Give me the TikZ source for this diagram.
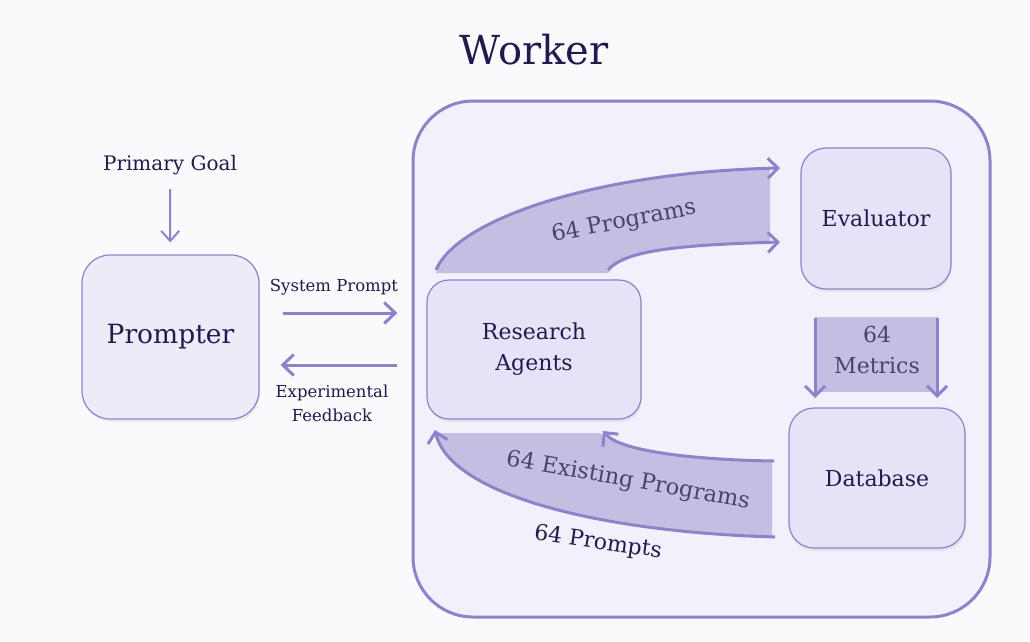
\documentclass[tikz,border=0pt]{standalone}
\usepackage{fontspec}
\setmainfont{DejaVu Serif}
\usetikzlibrary{arrows.meta,positioning,calc,shadows}
\definecolor{Ink}{HTML}{221A4C}
\definecolor{BandInk}{HTML}{4A4170}
\definecolor{Accent}{HTML}{8E82C8}
\definecolor{BoxFill}{HTML}{E7E2F7}
\definecolor{WorkerFill}{HTML}{F3F0FB}
\definecolor{BandFill}{HTML}{C6BDE3}
\definecolor{Paper}{HTML}{FAFAFD}
\newcommand{\fsz}[2]{\fontsize{#1}{#2}\selectfont}

\begin{document}
\begin{tikzpicture}[x=1pt,y=-1pt,
  box/.style={draw=Accent,line width=1.2pt,fill=BoxFill,rounded corners=25pt,text=Ink,align=center,
    inner sep=0pt,drop shadow={opacity=0.12,shadow xshift=1pt,shadow yshift=-3pt}},
  flow/.style={draw=Accent,line width=3pt,-{Straight Barb[length=11pt,width=21pt,line width=3pt]}},
  thinflow/.style={draw=Accent,line width=2pt,-{Straight Barb[length=10pt,width=18pt,line width=2pt]}},
  bandline/.style={draw=Accent,line width=3pt,-{Straight Barb[length=10pt,width=20pt,line width=3pt]}},
  lbl/.style={text=Ink,align=center,inner sep=1pt},
  bandlbl/.style={text=BandInk,inner sep=0pt}]
\useasboundingbox[fill=Paper] (0,0) rectangle (1030,642);
% title and outer box
\node[lbl,font=\fsz{40}{46}] (title) at (534,50) {Worker};
\node[draw=Accent,line width=3pt,fill=WorkerFill,rounded corners=60pt,minimum width=577pt,minimum height=516pt] (worker) at (701.5,359) {};
% prompter side
\node[lbl,font=\fsz{20}{24}] (goal) at (170,165) {Primary Goal};
\node[box,rounded corners=28pt,minimum width=177pt,minimum height=164pt,fill=BoxFill!70!white,font=\fsz{26.5}{30}] (prompter) at (170.5,337) {Prompter};
\draw[thinflow,shorten <=13pt,shorten >=12pt] (goal) -- (prompter);
% boxes inside worker
\node[box,rounded corners=22pt,minimum width=214pt,minimum height=139pt,font=\fsz{22}{31}] (research) at (534,349.5) {Research\\Agents};
\node[box,minimum width=150pt,minimum height=141pt,font=\fsz{22}{26}] (evaluator) at (876,218.5) {Evaluator};
\node[box,minimum width=176pt,minimum height=140pt,font=\fsz{22}{26}] (database) at (877,478) {Database};
% prompt and feedback
\draw[flow,shorten <=23pt,shorten >=29pt] ([yshift=24pt]prompter.east) -- ([yshift=24pt]prompter.east -| research.west)
  node[lbl,midway,above=15pt,xshift=-9pt,font=\fsz{16.5}{20}] (syslbl) {System Prompt};
\draw[flow,shorten <=29pt,shorten >=21pt] ([yshift=-28pt]prompter.east -| research.west) -- ([yshift=-28pt]prompter.east)
  node[lbl,midway,below=17pt,xshift=-11pt,font=\fsz{16.5}{24}] (feedlbl) {Experimental\\Feedback};
% programs band
\fill[BandFill] (436,273) .. controls (458,218) and (600,172) .. (770,168) -- (770,242)
  .. controls (680,245) and (625,250) .. (608,273) -- cycle;
\draw[bandline] (436,270) .. controls (458,218) and (600,172) .. (780,168);
\draw[bandline] (608,270) .. controls (625,250) and (680,245) .. (780,242);
\node[bandlbl,rotate=11,font=\fsz{22.5}{26}] (proglbl) at (624,222) {64 Programs};
% metrics band
\fill[BandFill] (815,317) rectangle (938,392);
\draw[bandline] (evaluator.south -| 815,0) ++(0,28) -- (815,398);
\draw[bandline] (evaluator.south -| 937,0) ++(0,28) -- (937,398);
\node[bandlbl,align=center,font=\fsz{22}{31}] (metlbl) at (877,350) {64\\Metrics};
% existing programs band
\fill[BandFill] (436,433) -- (600,433) .. controls (620,452) and (700,460) .. (772,461) -- (772,537)
  .. controls (600,532) and (450,495) .. (437,433) -- cycle;
\draw[bandline] (774,461) .. controls (700,460) and (620,452) .. (603,431);
\draw[bandline] (775,537) .. controls (600,532) and (450,495) .. (435,430);
\node[bandlbl,rotate=-10,font=\fsz{22.5}{26}] (exlbl) at (628,481) {64 Existing Programs};
\node[lbl,rotate=-8,font=\fsz{22}{25}] (promptslbl) at (598,543) {64 Prompts};
\end{tikzpicture}
\end{document}
